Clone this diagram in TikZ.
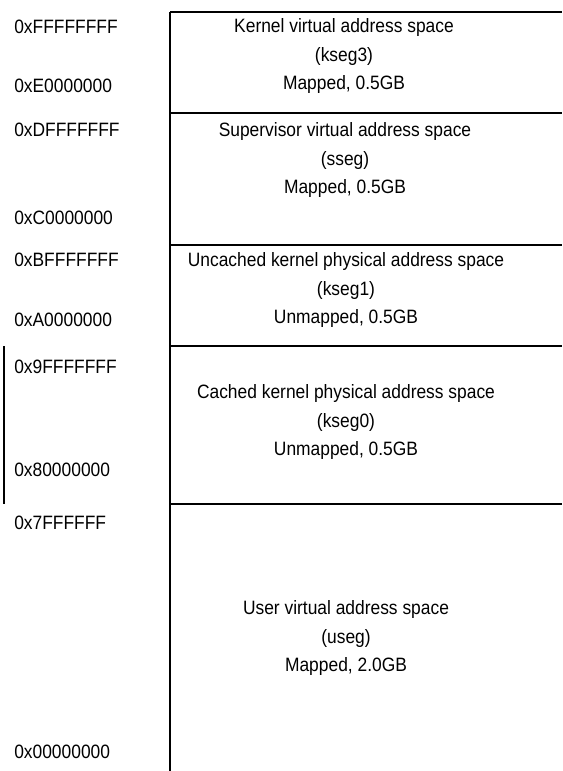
\documentclass[tikz,border=0pt]{standalone}
\usepackage{fontspec}
\setmainfont{Liberation Sans}[FakeStretch=0.9]
\usepackage{tikz}
\usetikzlibrary{positioning}

\begin{document}
\begin{tikzpicture}[x=0.75pt,y=-0.75pt]
     \tikzset{addr/.style={anchor=west, inner sep=0pt, font=\fontsize{14.5}{21}\selectfont}}
     \tikzset{segtext/.style={align=center, inner sep=0pt, font=\fontsize{14.5}{21.5}\selectfont}}
     \tikzset{line/.style={draw, line width=1.5pt}}
     \useasboundingbox (0,0) rectangle (562,771);

     % frame of the map
     \coordinate (top) at (170,12);
     \coordinate (bot) at (170,771);
     \coordinate (d1) at (170,113);
     \coordinate (d2) at (170,245);
     \coordinate (d3) at (170,346);
     \coordinate (d4) at (170,504);
     \path [line] (top) -- (bot);
     \path [line] (top) -- (top -| 562,0);
     \path [line] (d1) -- (d1 -| 562,0);
     \path [line] (d2) -- (d2 -| 562,0);
     \path [line] (d3) -- (d3 -| 562,0);
     \path [line] (d4) -- (d4 -| 562,0);
     \path [line] (d3 -| 4,0) -- (d4 -| 4,0);

     % segments
     \node [segtext] (kseg3) at (344,56) {Kernel virtual address space\\(kseg3)\\Mapped, 0.5GB};
     \node [segtext] (sseg) at (345,160) {Supervisor virtual address space\\(sseg)\\Mapped, 0.5GB};
     \node [segtext] (kseg1) at (346,290) {Uncached kernel physical address space\\(kseg1)\\Unmapped, 0.5GB};
     \node [segtext] (kseg0) at (346,422) {Cached kernel physical address space\\(kseg0)\\Unmapped, 0.5GB};
     \node [segtext] (useg) at (346,638) {User virtual address space\\(useg)\\Mapped, 2.0GB};

     % addresses
     \node [addr] (a0) at (14,27) {0xFFFFFFFF};
     \node [addr] (a1) at (14,86) {0xE0000000};
     \node [addr] (a2) at (14,130) {0xDFFFFFFF};
     \node [addr] (a3) at (14,218) {0xC0000000};
     \node [addr] (a4) at (14,260) {0xBFFFFFFF};
     \node [addr] (a5) at (14,320) {0xA0000000};
     \node [addr] (a6) at (14,367) {0x9FFFFFFF};
     \node [addr] (a7) at (14,470) {0x80000000};
     \node [addr] (a8) at (14,523) {0x7FFFFFF};
     \node [addr] (a9) at (14,752) {0x00000000};
\end{tikzpicture}
\end{document}
